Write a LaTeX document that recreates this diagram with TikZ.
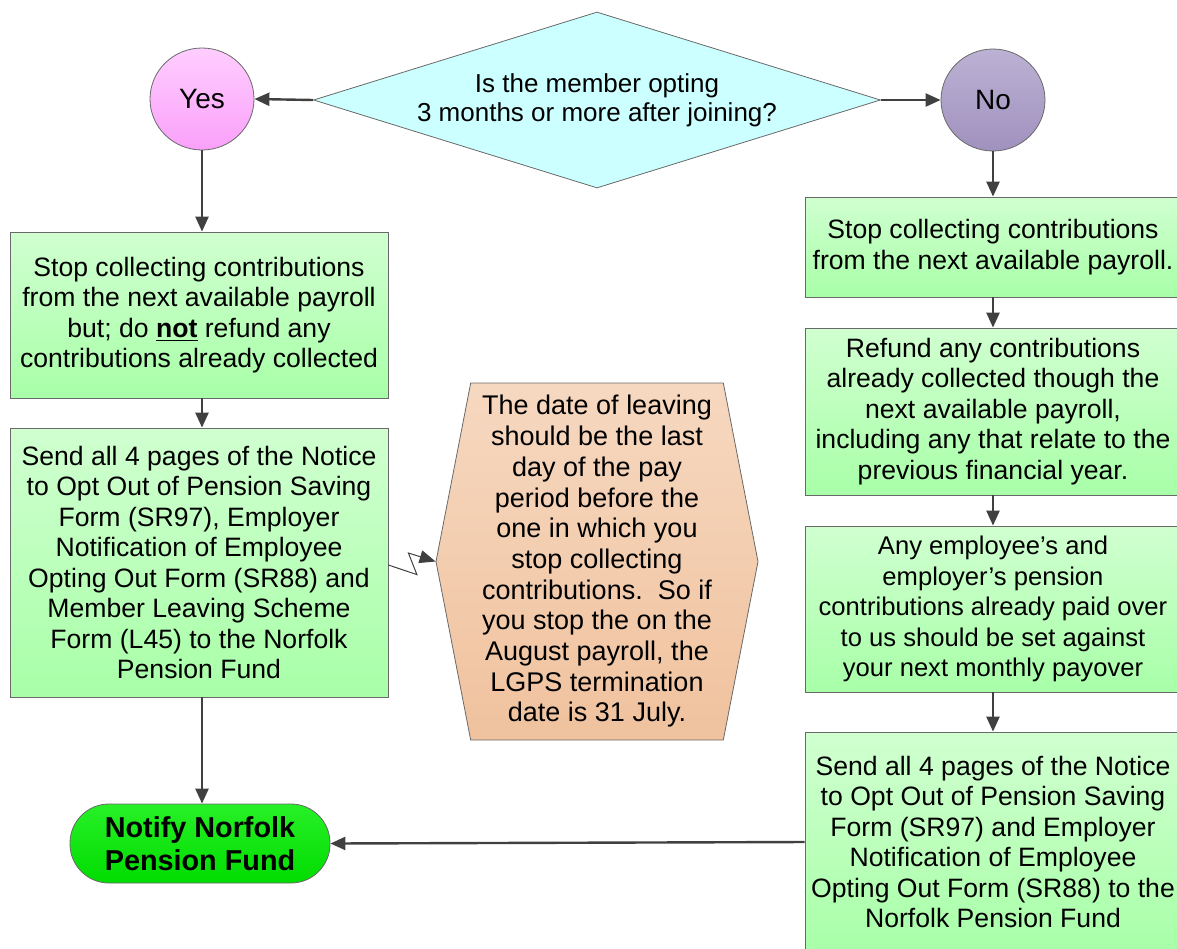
\documentclass[tikz,border=0pt]{standalone}
\usepackage{fontspec}
\setmainfont{Liberation Sans}
\usepackage{tikz}
\usetikzlibrary{positioning,arrows.meta,shapes.geometric,shapes.symbols}

\definecolor{edgegray}{RGB}{105,105,105}
\definecolor{linegray}{RGB}{64,64,64}
\definecolor{boxtop}{RGB}{208,255,208}
\definecolor{boxbot}{RGB}{168,255,168}
\definecolor{questfill}{RGB}{204,255,255}
\definecolor{yestop}{RGB}{255,206,255}
\definecolor{yesbot}{RGB}{250,160,250}
\definecolor{notop}{RGB}{188,178,212}
\definecolor{nobot}{RGB}{160,145,190}
\definecolor{hextop}{RGB}{246,216,192}
\definecolor{hexbot}{RGB}{240,194,158}
\definecolor{notifytop}{RGB}{40,240,40}
\definecolor{notifybot}{RGB}{0,220,0}

\tikzset{
  box/.style={draw=edgegray, top color=boxtop, bottom color=boxbot, align=center,
    minimum width=188pt, inner sep=0pt, font=\fontsize{13.3}{15.25}\selectfont},
  answer/.style={ellipse, draw=edgegray, minimum width=52pt, minimum height=51pt,
    inner sep=0pt, font=\fontsize{14}{16}\selectfont},
  conn/.style={draw=linegray, line width=1.2pt, -{Triangle[length=7.5pt,width=6.5pt]}},
  zig/.style={draw=linegray, line width=0.5pt, -{Triangle[length=8pt,width=6.5pt]}}
}

\begin{document}
\begin{tikzpicture}[x=0.5pt,y=-0.5pt]
\useasboundingbox (0,0) rectangle (1177,948);

\node[diamond, draw=edgegray, fill=questfill, aspect=3.2, minimum width=283.5pt,
  minimum height=88pt, inner sep=0pt, align=center,
  font=\fontsize{13}{14.5}\selectfont] (quest) at (597,100)
  {Is the member opting\\3 months or more after joining?};
\node[answer, top color=yestop, bottom color=yesbot] (yes) at (202,99) {Yes};
\node[answer, top color=notop, bottom color=nobot] (no) at (993,100) {No};
\draw[conn] (quest.west) -- (yes.east);
\draw[conn] (quest.east) -- (no.west);

\node[box, minimum width=189pt, minimum height=83pt] (stopL) at (199,315)
  {Stop collecting contributions\\from the next available payroll\\but; do \underline{\textbf{not}} refund any\\contributions already collected};
\node[box, minimum width=189pt, minimum height=134.5pt] (sendL) at (199,562.5)
  {Send all 4 pages of the Notice\\to Opt Out of Pension Saving\\Form (SR97), Employer\\Notification of Employee\\Opting Out Form (SR88) and\\Member Leaving Scheme\\Form (L45) to the Norfolk\\Pension Fund};
\node[draw=edgegray, rounded corners=19.5pt, top color=notifytop, bottom color=notifybot,
  minimum width=130pt, minimum height=39.5pt, inner sep=0pt, align=center,
  font=\fontsize{14.4}{16.5}\selectfont\bfseries] (notify) at (200,843.5)
  {Notify Norfolk\\Pension Fund};
\draw[conn] (yes.south) -- (yes |- stopL.north);
\draw[conn] (yes |- stopL.south) -- (yes |- sendL.north);
\draw[conn] (yes |- sendL.south) -- (yes |- notify.north);

\node[signal, signal to=west and east, signal pointer angle=158, draw=edgegray,
  top color=hextop, bottom color=hexbot, minimum width=161pt, minimum height=178.5pt,
  inner sep=0pt, align=center, font=\fontsize{13.5}{15.35}\selectfont] (hex) at (597,561.5)
  {The date of leaving\\should be the last\\day of the pay\\period before the\\one in which you\\stop collecting\\contributions.\ \ So if\\you stop the on the\\August payroll, the\\LGPS termination\\date is 31 July.};
\draw[zig] ([yshift=-1.25pt]sendL.east) -- ++(28.5,9.6) -- ++(-8.5,-21.6) -- (hex.west);

\node[box, minimum height=50pt] (stopR) at (993,247)
  {Stop collecting contributions\\from the next available payroll.};
\node[box, minimum height=83.5pt] (refund) at (993,411.5)
  {Refund any contributions\\already collected though the\\next available payroll,\\including any that relate to the\\previous financial year.};
\node[box, minimum height=83pt, font=\fontsize{12.8}{15.25}\selectfont] (offset) at (993,609)
  {Any employee’s and\\employer’s pension\\contributions already paid over\\to us should be set against\\your next monthly payover};
\node[box, minimum height=110pt] (sendR) at (993,842)
  {Send all 4 pages of the Notice\\to Opt Out of Pension Saving\\Form (SR97) and Employer\\Notification of Employee\\Opting Out Form (SR88) to the\\Norfolk Pension Fund};
\draw[conn] (no.south) -- (stopR.north);
\draw[conn] (stopR.south) -- (refund.north);
\draw[conn] (refund.south) -- (offset.north);
\draw[conn] (offset.south) -- (sendR.north);
\draw[conn] (sendR.west) -- (notify.east);
\end{tikzpicture}
\end{document}
